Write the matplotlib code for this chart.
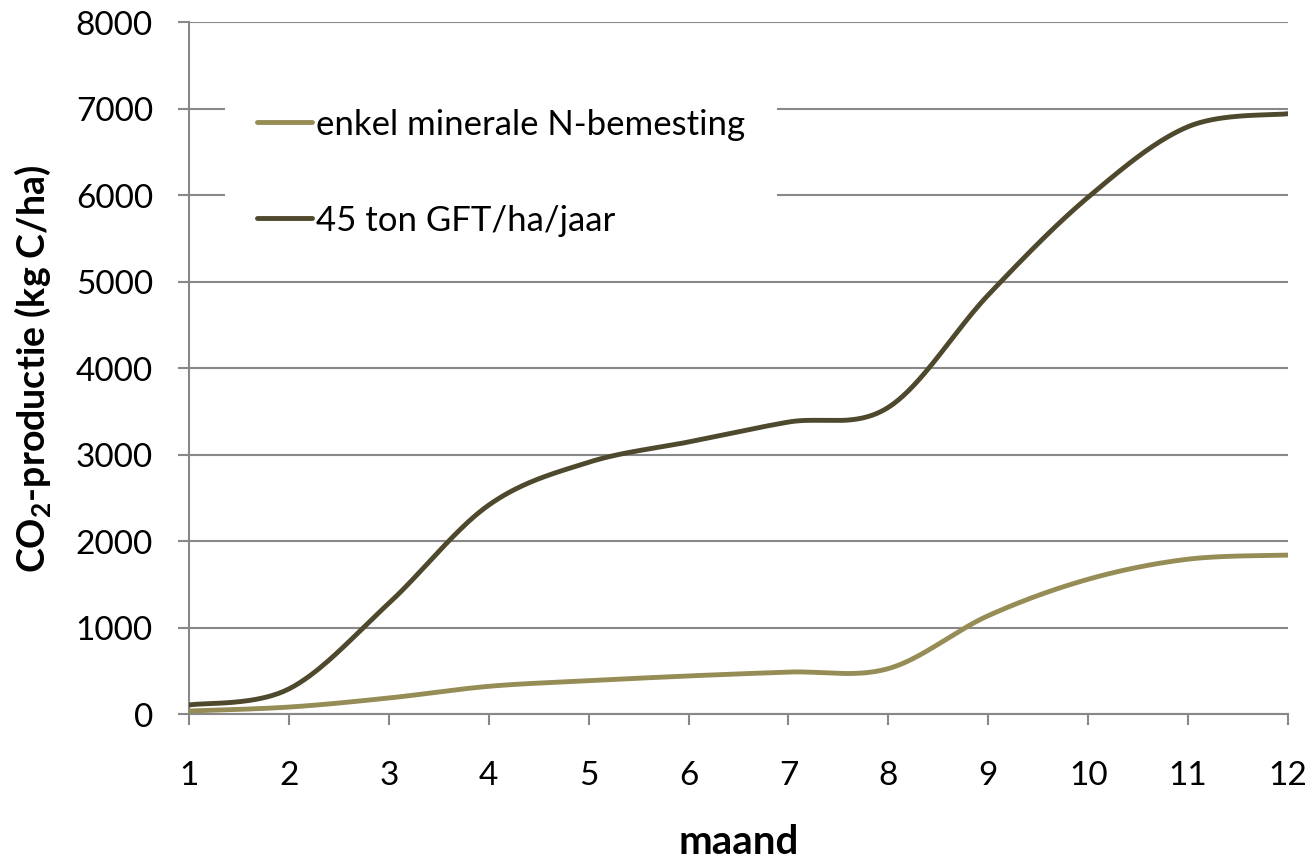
import numpy as np
import matplotlib
matplotlib.use("Agg")
import matplotlib.pyplot as plt

plt.rcParams['font.family'] = ['Lato', 'DejaVu Sans']
plt.rcParams['mathtext.fontset'] = 'custom'
plt.rcParams['mathtext.rm'] = 'Lato'
plt.rcParams['mathtext.bf'] = 'Lato:bold'

# data
maand = [1, 2, 3, 4, 5, 6, 7, 8, 9, 10, 11, 12]
mineraal = [35, 80, 185, 320, 385, 440, 485, 525, 1137, 1558, 1790, 1837]
gft = [104, 290, 1280, 2415, 2910, 3145, 3375, 3545, 4845, 5975, 6790, 6940]

labels = ["enkel minerale N-bemesting", "45 ton GFT/ha/jaar"]
colors = ["#968C56", "#4E482D"]


def smooth(x, y, n=40):
    # Excel-like smoothed line (Catmull-Rom as cubic bezier)
    x = np.asarray(x, float)
    y = np.asarray(y, float)
    px = np.r_[x[0], x, x[-1]]
    py = np.r_[y[0], y, y[-1]]
    t = np.linspace(0, 1, n)
    xs, ys = [], []
    for i in range(len(x) - 1):
        x0, y0 = px[i + 1], py[i + 1]
        x3, y3 = px[i + 2], py[i + 2]
        x1 = x0 + (px[i + 2] - px[i]) / 6
        y1 = y0 + (py[i + 2] - py[i]) / 6
        x2 = x3 - (px[i + 3] - px[i + 1]) / 6
        y2 = y3 - (py[i + 3] - py[i + 1]) / 6
        b0 = (1 - t) ** 3
        b1 = 3 * (1 - t) ** 2 * t
        b2 = 3 * (1 - t) * t ** 2
        b3 = t ** 3
        xs.append(b0 * x0 + b1 * x1 + b2 * x2 + b3 * x3)
        ys.append(b0 * y0 + b1 * y1 + b2 * y2 + b3 * y3)
    return np.concatenate(xs), np.concatenate(ys)


fig = plt.figure(figsize=(13.15, 8.62), dpi=100)
ax = fig.add_axes([189 / 1315, 1 - 715 / 862, (1288 - 189) / 1315, (715 - 23) / 862])

for y, lab, c in zip([mineraal, gft], labels, colors):
    sx, sy = smooth(maand, y)
    ax.plot(sx, sy, color=c, lw=3.5, label=lab, solid_capstyle='round', zorder=3)

ax.set_xlim(1, 12)
ax.set_ylim(0, 8000)
ax.set_xticks(maand)
ax.set_yticks(np.arange(0, 8001, 1000))

grid_c = "#888888"
ax.yaxis.grid(True, color=grid_c, lw=1.5)
ax.set_axisbelow(True)
for s in ["top", "right"]:
    ax.spines[s].set_visible(False)
for s in ["left", "bottom"]:
    ax.spines[s].set_color(grid_c)
    ax.spines[s].set_linewidth(1.5)
ax.tick_params(axis='y', direction='out', length=8, width=1.5, color=grid_c,
               labelsize=24, pad=18)
ax.tick_params(axis='x', direction='out', length=8, width=1.5, color=grid_c,
               labelsize=24, pad=25)

ax.set_xlabel("maand", fontsize=29, fontweight='bold', labelpad=24)
ax.set_ylabel(r"CO$_\mathbf{2}$-productie (kg C/ha)", fontsize=27, fontweight='bold', labelpad=16)

leg = ax.legend(loc='upper left', bbox_to_anchor=(225 / 1315, 1 - 77 / 862),
                bbox_transform=fig.transFigure, fontsize=25, frameon=True,
                fancybox=False, framealpha=1, edgecolor='none', facecolor='white',
                handlelength=1.58, handletextpad=0.12, labelspacing=1.85,
                borderpad=0.92, borderaxespad=0)

fig.savefig("out.png", dpi=100)
